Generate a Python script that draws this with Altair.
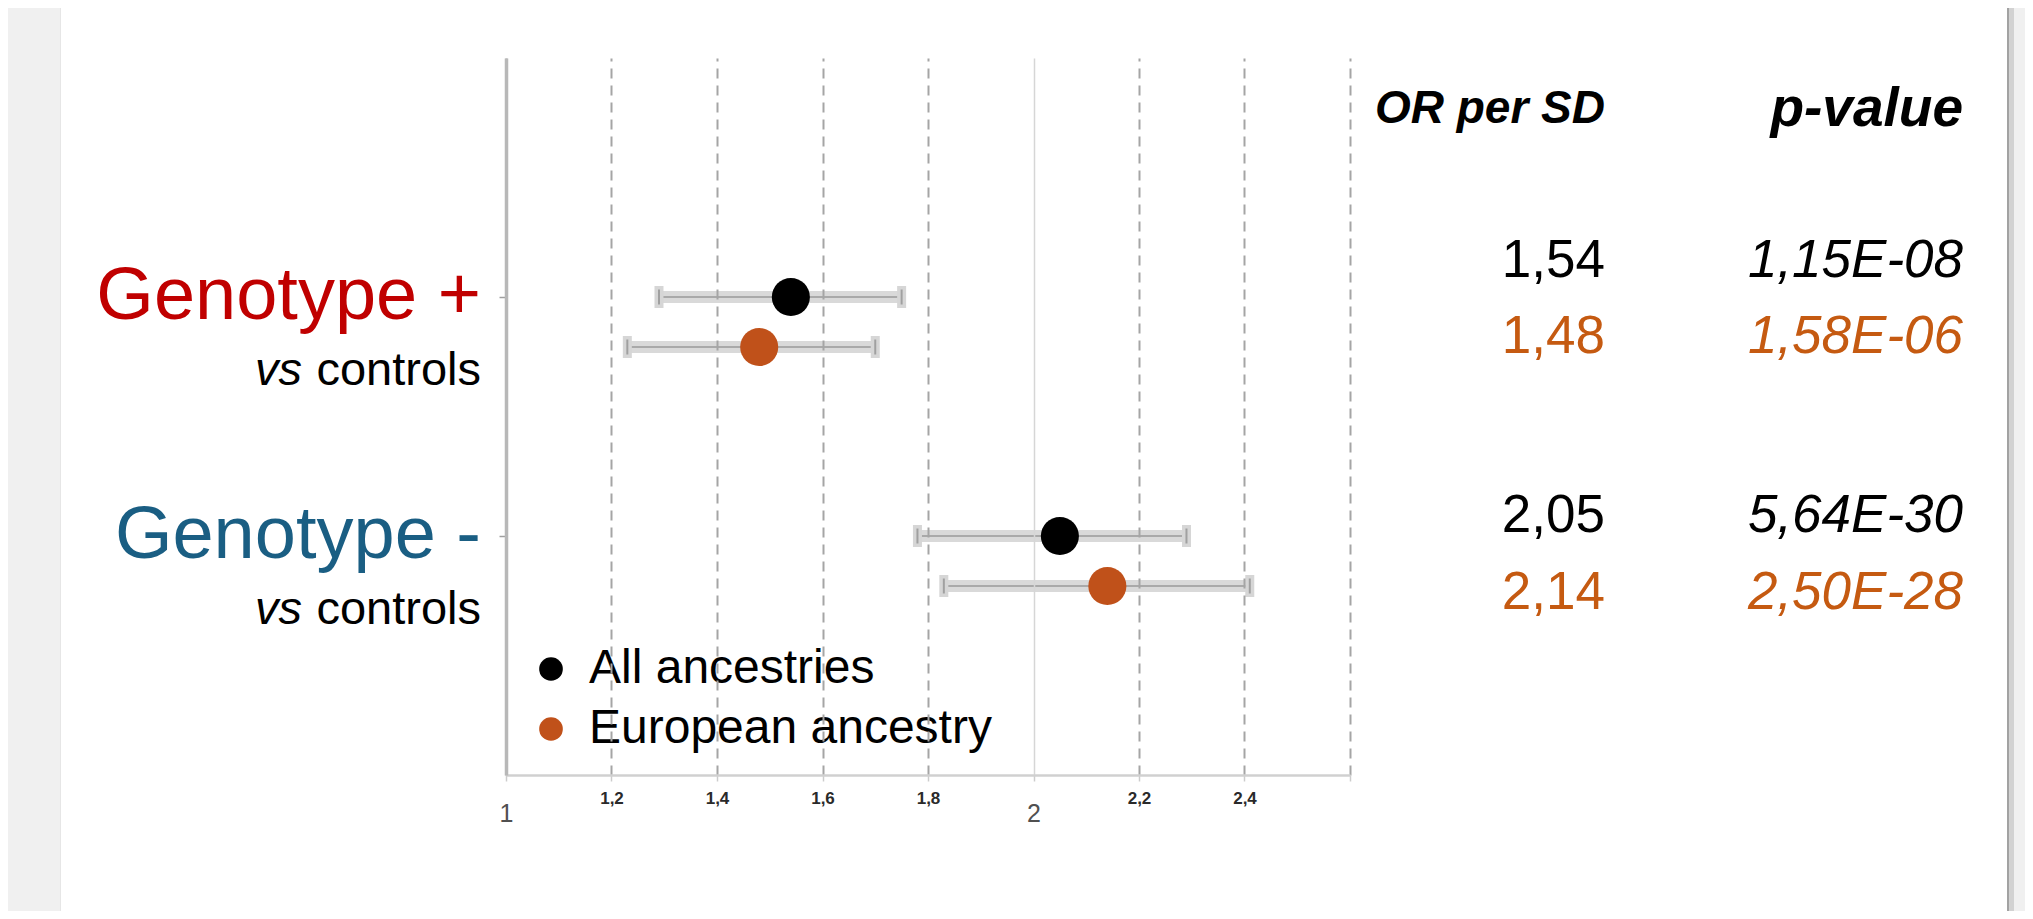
import altair as alt
import pandas as pd

# ---------------- data ----------------
groups = ["Genotype +", "Genotype -"]
series = ["All ancestries", "European ancestry"]
row_group = ["Genotype +", "Genotype +", "Genotype -", "Genotype -"]
row_series = ["All ancestries", "European ancestry", "All ancestries", "European ancestry"]
or_per_sd = [1.54, 1.48, 2.05, 2.14]
ci_low = [1.29, 1.23, 1.78, 1.83]
ci_high = [1.75, 1.70, 2.29, 2.41]
or_text = ["1,54", "1,48", "2,05", "2,14"]
p_text = ["1,15E-08", "1,58E-06", "5,64E-30", "2,50E-28"]
x_ticks = [1.0, 1.2, 1.4, 1.6, 1.8, 2.0, 2.2, 2.4, 2.6]
headers = ["OR per SD", "p-value"]
sub_italic = "vs"
sub_rest = "controls"

# ---------------- styles ----------------
series_colors = ["#000000", "#C0511A"]
text_colors = ["#000000", "#C55A11"]
group_colors = ["#C00000", "#1A5E83"]
LABEL_FONT = "Liberation Sans"
VALUE_FONT = "Liberation Sans"

df = pd.DataFrame({
    "group": row_group,
    "series": row_series,
    "or": or_per_sd,
    "lo": ci_low,
    "hi": ci_high,
    "or_text": or_text,
    "p_text": p_text,
})
gdf = pd.DataFrame({"group": groups, "vs": [sub_italic] * len(groups), "rest": [sub_rest] * len(groups)})

is_big = "datum.value == 1 || datum.value == 2"
x_sc = alt.Scale(domain=[1, 2.6], nice=False, zero=False)
x_axis = alt.Axis(
    values=x_ticks, title=None, grid=True, zindex=1,
    gridDash={"condition": {"test": "datum.value == 2", "value": []}, "value": [10, 7]},
    gridColor={"condition": {"test": "datum.value == 2", "value": "#d6d6d6"}, "value": "#a5a5a5"},
    gridWidth={"condition": {"test": "datum.value == 2", "value": 1.5}, "value": 2},
    domainColor="#d0d0d0", domainWidth=2.5,
    tickColor="#cccccc", tickSize=6, tickWidth=1.5,
    labelExpr="datum.value > 2.5 ? '' : replace(format(datum.value, '~g'), '.', ',')",
    labelFont=LABEL_FONT,
    labelFontSize={"condition": {"test": is_big, "value": 25}, "value": 17},
    labelFontWeight={"condition": {"test": is_big, "value": "normal"}, "value": "bold"},
    labelColor={"condition": {"test": is_big, "value": "#505050"}, "value": "#2a2a2a"},
    labelPadding={"condition": {"test": is_big, "value": 20}, "value": 9},
    labelFlush=False, labelOverlap=False,
)
y_axis = alt.Axis(title=None, labels=False, grid=False, domainColor="#b8b8b8", domainWidth=3.5,
                  tickColor="#a0a0a0", tickSize=7, tickWidth=1.5, zindex=1)
y_sc = alt.Scale(type="point", domain=groups, padding=1)
yoff_sc = alt.Scale(type="point", domain=series, range=[0, 50], padding=0)


def X(field):
    return alt.X(field, type="quantitative", scale=x_sc, axis=x_axis)


Y = alt.Y("group:N", scale=y_sc, axis=y_axis)
YO = alt.YOffset("series:N", scale=yoff_sc)

base = alt.Chart(df).encode(y=Y, yOffset=YO)

band = base.mark_rule(color="#d9d9d9", strokeWidth=12).encode(x=X("lo"), x2="hi:Q")
cline = base.mark_rule(color="#a9a9a9", strokeWidth=2).encode(x=X("lo"), x2="hi:Q")
cap_lo_bg = base.mark_tick(color="#d6d6d6", thickness=9, size=22, opacity=1).encode(x=X("lo"))
cap_hi_bg = base.mark_tick(color="#d6d6d6", thickness=9, size=22, opacity=1).encode(x=X("hi"))
cap_lo = base.mark_tick(color="#a0a0a0", thickness=2, size=15, opacity=1).encode(x=X("lo"))
cap_hi = base.mark_tick(color="#a0a0a0", thickness=2, size=15, opacity=1).encode(x=X("hi"))

legend = alt.Legend(
    orient="none", legendX=21, legendY=587, title=None,
    labelFont=LABEL_FONT, labelFontSize=48, labelColor="#000000", labelLimit=2000,
    symbolType="circle", symbolSize=560, symbolOpacity=1, symbolStrokeWidth=0,
    labelOffset=14, rowPadding=12, padding=0,
)
points = base.mark_circle(size=1450, opacity=1).encode(
    x=X("or"),
    color=alt.Color("series:N", scale=alt.Scale(domain=series, range=series_colors), legend=legend),
)

lbase = alt.Chart(gdf).encode(y=Y)
glabel = lbase.mark_text(align="right", baseline="middle", font=LABEL_FONT, fontSize=74).encode(
    x=alt.value(-25), text="group:N",
    fill=alt.Fill("group:N", scale=alt.Scale(domain=groups, range=group_colors), legend=None),
)
sub_r = lbase.mark_text(align="right", baseline="middle", font=LABEL_FONT, fontSize=47, dy=74,
                        color="#000000").encode(x=alt.value(-25), text="rest:N")
sub_i = lbase.mark_text(align="right", baseline="middle", font=LABEL_FONT, fontSize=47, dy=74,
                        fontStyle="italic", color="#000000").encode(x=alt.value(-204), text="vs:N")

inner = alt.layer(band, cline, cap_lo_bg, cap_hi_bg, cap_lo, cap_hi, points, glabel, sub_r, sub_i)

# value columns (own y scale, rows spaced like the table)
value_layers = []
row_ranges = {series[0]: [202.6, 458.0], series[1]: [279.1, 534.5]}
for s, tc in zip(series, text_colors):
    ysc = alt.Y("group:N", scale=alt.Scale(type="point", domain=groups, range=row_ranges[s], padding=0), axis=None)
    tb = alt.Chart(df).transform_filter(alt.datum.series == s).encode(y=ysc)
    value_layers.append(tb.mark_text(align="right", baseline="middle", font=VALUE_FONT, fontSize=53,
                                     color=tc).encode(x=alt.value(1099), text="or_text:N"))
    value_layers.append(tb.mark_text(align="right", baseline="middle", font=VALUE_FONT, fontSize=53,
                                     fontStyle="italic", color=tc).encode(x=alt.value(1457), text="p_text:N"))

header_layers = []
for h, hx, hs in zip(headers, [1099, 1457], [46, 55]):
    header_layers.append(
        alt.Chart(pd.DataFrame({"h": [h]})).mark_text(
            align="right", baseline="middle", font=LABEL_FONT, fontSize=hs,
            fontStyle="italic", fontWeight="bold", color="#000000"
        ).encode(x=alt.value(hx), y=alt.value(51), text="h:N")
    )

one = alt.Data(values=[{"k": 1}])
left_strip = alt.Chart(one).mark_rect(color="#f0f0f0").encode(
    x=alt.value(-506), x2=alt.value(-445), y=alt.value(-50), y2=alt.value(853))
left_edge = alt.Chart(one).mark_rect(color="#e6e6e6").encode(
    x=alt.value(-446), x2=alt.value(-445), y=alt.value(-50), y2=alt.value(853))
shadow1 = alt.Chart(one).mark_rect(color="#a2a2a2").encode(
    x=alt.value(1501), x2=alt.value(1503), y=alt.value(-50), y2=alt.value(853))
shadow2 = alt.Chart(one).mark_rect(color="#d2d2d2").encode(
    x=alt.value(1503), x2=alt.value(1508), y=alt.value(-50), y2=alt.value(853))
right_strip = alt.Chart(one).mark_rect(color="#f0f0f0").encode(
    x=alt.value(1508), x2=alt.value(1530), y=alt.value(-50), y2=alt.value(853))

chart = alt.layer(left_strip, left_edge, shadow1, shadow2, right_strip, inner,
                  *value_layers, *header_layers).resolve_scale(
    y="independent"
).properties(
    width=844, height=717,
    autosize=alt.AutoSizeParams(type="none"),
    padding={"left": 498, "top": 50, "right": 675, "bottom": 136},
    background="#ffffff",
).configure_view(stroke=None)

chart.save("out.html", embed_options={"renderer": "svg", "actions": False})
